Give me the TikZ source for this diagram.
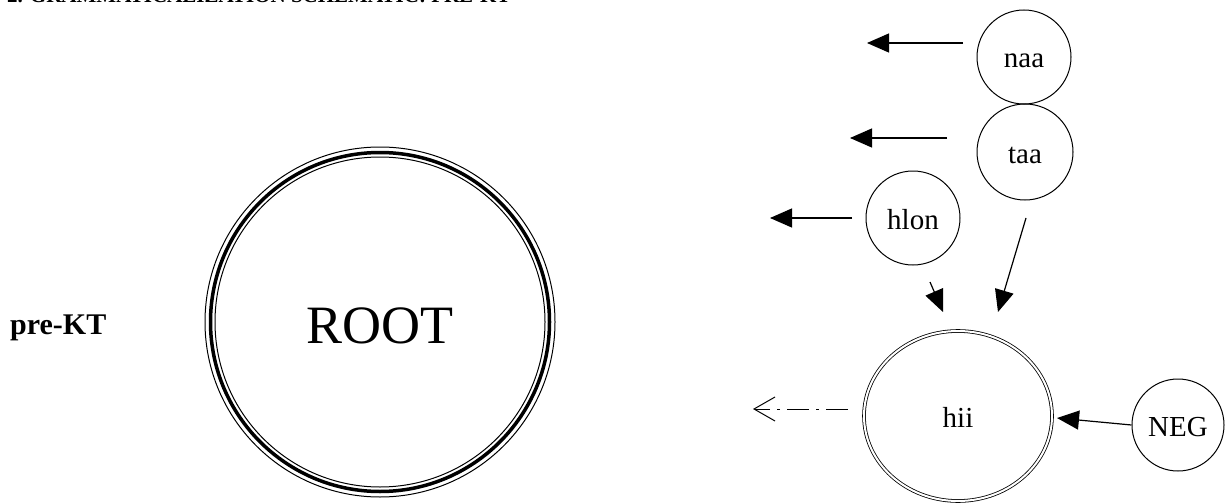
\documentclass[tikz,border=0pt]{standalone}
\usepackage{fontspec}
\setmainfont{Liberation Serif}
\usetikzlibrary{arrows.meta,shapes.geometric}
\begin{document}
\begin{tikzpicture}[x=1pt,y=-1pt,
  state/.style={circle, draw, line width=1pt, inner sep=0pt, minimum size=94pt,
    text height=28pt, text depth=6pt, font=\fontsize{29}{34}\selectfont},
  arr/.style={-{Triangle[length=22pt,width=19pt]}, line width=1.2pt},
  dasharr/.style={-{Straight Barb[length=21pt,width=24pt,line width=1pt]}, line width=1pt,
    dash pattern=on 22pt off 7pt on 3pt off 7pt}
]
\useasboundingbox (0,0) rectangle (1229,503);
\fill[white] (0,0) rectangle (1229,503);

% title (top cut off)
\node[anchor=base west, inner sep=0pt, font=\bfseries\fontsize{21}{25}\selectfont] (title) at (7,3) {2. GRAMMATICALIZATION SCHEMATIC: PRE-KT};

% pre-KT label
\node[anchor=base west, inner sep=0pt, font=\bfseries\fontsize{30}{36}\selectfont] (pre) at (10,334) {pre-KT};

% ROOT
\node[circle, inner sep=0pt, minimum size=340pt, text height=42pt, text depth=0pt,
  font=\fontsize{54}{60}\selectfont] (root) at (380,322) {ROOT};
\draw[line width=1pt] (root.center) circle[radius=175pt];
\draw[line width=3.5pt] (root.center) circle[radius=169.5pt];
\draw[line width=1pt] (root.center) circle[radius=165pt];

% small circles
\node[state] (naa) at (1024,57) {naa};
\node[state, minimum size=96pt] (taa) at (1025,152) {taa};
\node[state] (hlon) at (913,218) {hlon};
\node[state, minimum size=92pt] (NEG) at (1178,425) {NEG};
\node[ellipse, draw, double, line width=0.8pt, double distance=2pt, inner sep=0pt,
  minimum width=188pt, minimum height=170pt,
  text height=28pt, text depth=6pt, font=\fontsize{29}{34}\selectfont] (hii) at (958,416) {hii};

% arrow end points
\coordinate (naaS) at (963,43);  \coordinate (naaE) at (867,43);
\coordinate (taaS) at (947,138); \coordinate (taaE) at (850,138);
\coordinate (hlonS) at (852,218); \coordinate (hlonE) at (770,218);
\coordinate (hlonD) at (930,282); \coordinate (hlonT) at (943,312);
\coordinate (taaD) at (1026,218); \coordinate (taaT) at (998,312);
\coordinate (negT) at (1057,418);
\coordinate (hiiS) at (848,409); \coordinate (hiiE) at (753,409);

\draw[arr] (naaS) -- (naaE);
\draw[arr] (taaS) -- (taaE);
\draw[arr] (hlonS) -- (hlonE);
\draw[arr] (hlonD) -- (hlonT);
\draw[arr] (taaD) -- (taaT);
\draw[arr] (NEG.west) -- (negT);
\draw[dasharr] (hiiS) -- (hiiE);
\end{tikzpicture}
\end{document}
